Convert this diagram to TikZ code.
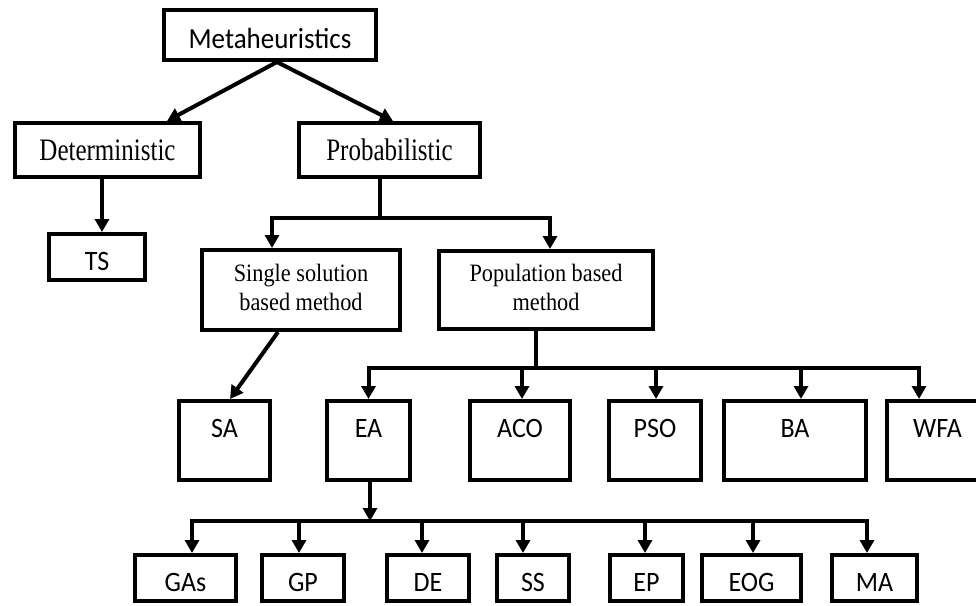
\documentclass[tikz,border=0pt]{standalone}
\usepackage{fontspec}
\setmainfont{Liberation Serif}
\newfontfamily\carlito{Carlito}
\usetikzlibrary{arrows.meta}
\newcommand{\tallone}[1]{\scalebox{1}[1.25]{#1}}
\newcommand{\talltwo}[2]{\scalebox{1}[1.12]{\setlength{\tabcolsep}{0pt}\begin{tabular}{c}#1\\#2\end{tabular}}}
\newcommand{\ct}[1]{\scalebox{1}[1.08]{#1}}
\begin{document}
\begin{tikzpicture}[x=1pt,y=-1pt,
 box/.style={draw,line width=4pt,inner sep=0pt,rectangle},
 sbox/.style={box,font=\carlito\fontsize{26}{30}\selectfont,text height=27pt,text depth=0pt},
 ubox/.style={box,font=\carlito\fontsize{26}{30}\selectfont,text height=17pt,text depth=23pt,minimum height=79pt},
 bbox/.style={sbox,minimum height=46pt},
 tbox/.style={box,font=\fontsize{25}{30}\selectfont,align=center},
 ttbox/.style={box,font=\fontsize{22.3}{26}\selectfont,align=center},
 conn/.style={line width=4pt},
 arr/.style={conn,-{Triangle[width=14pt,length=13pt]}},
]
\useasboundingbox (0,0) rectangle (976,605);
% top
\node[sbox,font=\carlito\fontsize{27}{30}\selectfont,minimum width=212pt,minimum height=50pt] (meta) at (270,35) {\ct{Metaheuristics}};
\node[tbox,minimum width=185pt,minimum height=54pt] (det) at (107.5,150) {\tallone{Deterministic}};
\node[tbox,minimum width=181pt,minimum height=54pt] (prob) at (389.5,150) {\tallone{Probabilistic}};
\node[sbox,minimum width=96pt,minimum height=46pt] (ts) at (97,257) {\ct{TS}};
\node[ttbox,minimum width=198pt,minimum height=80pt] (single) at (301,290) {\talltwo{Single solution}{based method}};
\node[ttbox,minimum width=214pt,minimum height=78pt] (pop) at (546,290) {\talltwo{Population based}{method}};
% row 2
\node[ubox,minimum width=91pt] (sa) at (224.5,440.5) {\ct{SA}};
\node[ubox,minimum width=83pt] (ea) at (368.5,440.5) {\ct{EA}};
\node[ubox,minimum width=100pt] (aco) at (520,440.5) {\ct{ACO}};
\node[ubox,minimum width=92pt] (pso) at (655,440.5) {\ct{PSO}};
\node[ubox,minimum width=142pt] (ba) at (795,440.5) {\ct{BA}};
\node[ubox,minimum width=101pt] (wfa) at (937.5,440.5) {\ct{WFA}};
% row 3
\node[bbox,minimum width=101pt] (gas) at (185.5,578) {\ct{GAs}};
\node[bbox,minimum width=82pt] (gp) at (303,578) {\ct{GP}};
\node[bbox,minimum width=82pt] (de) at (428,578) {\ct{DE}};
\node[bbox,minimum width=72pt] (ss) at (533,578) {\ct{SS}};
\node[bbox,minimum width=73pt] (ep) at (646.5,578) {\ct{EP}};
\node[bbox,minimum width=99pt] (eog) at (751.5,578) {\ct{EOG}};
\node[bbox,minimum width=85pt] (ma) at (874.5,578) {\ct{MA}};
% connectors
\draw[arr] ([xshift=7pt]meta.south) -- ([xshift=59.5pt]det.north);
\draw[arr] ([xshift=7pt]meta.south) -- ([xshift=3.5pt]prob.north);
\draw[arr] ([xshift=-5.5pt]det.south) -- ([xshift=5pt]ts.north);
\coordinate (pj) at (380,218);
\draw[conn] ([xshift=-9.5pt]prob.south) -- (pj);
\draw[arr,line join=miter] (pj) -| ([xshift=-29pt]single.north);
\draw[arr,line join=miter] (pj) -| ([xshift=4pt]pop.north);
\draw[arr] ([xshift=-23pt]single.south) -- ([xshift=5.5pt]sa.north);
\coordinate (qj) at (536,368);
\draw[conn] ([xshift=-10pt]pop.south) -- (qj);
\draw[arr,line join=miter] (qj) -| ([xshift=0pt]ea.north);
\draw[arr,line join=miter] (qj) -| ([xshift=2pt]aco.north);
\draw[arr,line join=miter] (qj) -| ([xshift=1pt]pso.north);
\draw[arr,line join=miter] (qj) -| ([xshift=6pt]ba.north);
\draw[arr,line join=miter] (qj) -| ([xshift=-18.5pt]wfa.north);
\coordinate (ej) at (370,521);
\draw[arr] ([xshift=1.5pt]ea.south) -- (ej);
\draw[arr,line join=miter] (ej) -| ([xshift=6.5pt]gas.north);
\draw[arr,line join=miter] (ej) -| ([xshift=-4pt]gp.north);
\draw[arr,line join=miter] (ej) -| ([xshift=-6pt]de.north);
\draw[arr,line join=miter] (ej) -| ([xshift=-10pt]ss.north);
\draw[arr,line join=miter] (ej) -| ([xshift=-1.5pt]ep.north);
\draw[arr,line join=miter] (ej) -| ([xshift=1.5pt]eog.north);
\draw[arr,line join=miter] (ej) -| ([xshift=-7.5pt]ma.north);
\end{tikzpicture}
\end{document}
